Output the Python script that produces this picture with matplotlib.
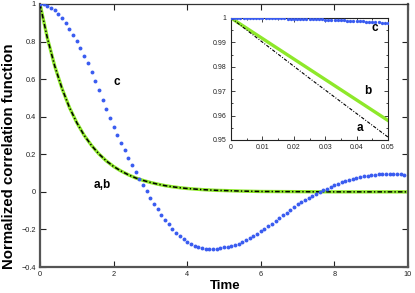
import numpy as np
import matplotlib
matplotlib.use("Agg")
import matplotlib.pyplot as plt
from matplotlib.ticker import MultipleLocator

plt.rcParams["font.family"] = ["Liberation Sans", "DejaVu Sans"]
plt.rcParams["axes.unicode_minus"] = True

# main panel: curve c (dotted), sampled every 0.1
t_c = [round(0.1 * i, 1) for i in range(100)]
c_main = [
    1.000, 0.998, 0.992, 0.981, 0.966, 0.947, 0.924, 0.897, 0.868, 0.836,
    0.801, 0.764, 0.725, 0.684, 0.639, 0.591, 0.541, 0.490, 0.440, 0.393,
    0.347, 0.303, 0.261, 0.221, 0.182, 0.144, 0.107, 0.071, 0.036, 0.002,
    -0.031, -0.063, -0.093, -0.121, -0.148, -0.173, -0.196, -0.217, -0.236, -0.253,
    -0.267, -0.279, -0.289, -0.296, -0.301, -0.304, -0.305, -0.305, -0.303, -0.300,
    -0.296, -0.293, -0.289, -0.283, -0.275, -0.266, -0.256, -0.245, -0.234, -0.222,
    -0.210, -0.197, -0.184, -0.170, -0.155, -0.140, -0.125, -0.110, -0.095, -0.080,
    -0.066, -0.054, -0.042, -0.031, -0.021, -0.011, -0.002, 0.008, 0.017, 0.026,
    0.034, 0.042, 0.050, 0.057, 0.064, 0.070, 0.075, 0.080, 0.084, 0.087,
    0.090, 0.092, 0.094, 0.095, 0.095, 0.095, 0.095, 0.094, 0.093, 0.092,
]

# main panel: curves a and b (overlapping)
t_ab = [0.0, 0.2, 0.4, 0.6, 0.8, 1.0, 1.2, 1.4, 1.6, 1.8,
        2.0, 2.2, 2.4, 2.6, 2.8, 3.0, 3.2, 3.4, 3.6, 3.8,
        4.0, 4.2, 4.4, 4.6, 4.8, 5.0, 5.5, 6.0, 7.0, 8.0, 9.0, 10.0]
a_main = [1.000, 0.819, 0.670, 0.549, 0.449, 0.368, 0.301, 0.247, 0.202, 0.165,
          0.135, 0.111, 0.091, 0.074, 0.061, 0.050, 0.041, 0.033, 0.027, 0.022,
          0.018, 0.015, 0.012, 0.010, 0.008, 0.007, 0.004, 0.002, 0.001, 0.0, 0.0, 0.0]
b_main = a_main

# inset (short times)
t_in_ab = [0.0, 0.025, 0.05]
a_inset = [1.0, 0.9753, 0.9512]
b_inset = [1.0, 0.979, 0.958]
t_in_c = [0.001 * i for i in range(51)]
c_inset = [
    1.00000, 1.00000, 1.00000, 0.99999, 0.99999, 0.99998, 0.99998, 0.99997, 0.99996, 0.99995,
    0.99994, 0.99993, 0.99991, 0.99989, 0.99987, 0.99985, 0.99983, 0.99981, 0.99978, 0.99975,
    0.99973, 0.99970, 0.99966, 0.99963, 0.99959, 0.99956, 0.99952, 0.99948, 0.99943, 0.99939,
    0.99934, 0.99929, 0.99924, 0.99919, 0.99913, 0.99908, 0.99902, 0.99896, 0.99889, 0.99883,
    0.99876, 0.99869, 0.99862, 0.99855, 0.99847, 0.99840, 0.99832, 0.99824, 0.99815, 0.99807,
    0.99798,
]

blue = "#3a5cf0"
green = "#8ee82a"
dashdot = (0, (3.0, 1.4, 0.9, 1.4))

fig = plt.figure(figsize=(4.15, 2.93), dpi=100)
ax = fig.add_axes([40 / 415, 26 / 293, 368 / 415, 263 / 293])

ax.plot(t_ab, b_main, color=green, lw=2.4, zorder=2)
ax.plot(t_ab, a_main, color="black", lw=1.1, ls=dashdot, zorder=3)
ax.plot(t_c, c_main, ls="none", marker="o", ms=2.8, mec="none", color=blue, zorder=4)

ax.set_xlim(0, 10)
ax.set_ylim(-0.4, 1)
ax.set_xticks([0, 2, 4, 6, 8, 10])
ax.set_yticks([-0.4, -0.2, 0, 0.2, 0.4, 0.6, 0.8, 1])
ax.set_yticklabels(["\u22120.4", "\u22120.2", "0", "0.2", "0.4", "0.6", "0.8", "1"])
ax.tick_params(direction="in", length=4, width=0.8, labelsize=5.3,
               top=True, right=True, pad=3, colors="#222222")
for side in ["left", "bottom", "right"]:
    ax.spines[side].set_color("#555555")
    ax.spines[side].set_linewidth(1.6)
ax.spines["top"].set_color("#333333")
ax.spines["top"].set_linewidth(0.9)

ax.set_xlabel("Time", fontsize=9.5, fontweight="bold")
ax.xaxis.set_label_coords(0.503, -0.05)
ax.set_ylabel("Normalized correlation function", fontsize=10.8, fontweight="bold")
ax.yaxis.set_label_coords(-0.065, 0.42)

ax.text(2.09, 0.585, "c", fontsize=8.5, fontweight="bold", ha="center", va="center")
ax.text(1.68, 0.037, "a,b", fontsize=8.5, fontweight="bold", ha="center", va="center")

# inset
ins = fig.add_axes([231 / 415, 153 / 293, 157 / 415, 122 / 293])
ins.plot(t_in_ab, b_inset, color=green, lw=2.4, zorder=2)
ins.plot(t_in_ab, a_inset, color="black", lw=0.8, ls=dashdot, zorder=3)
ins.plot(t_in_c, c_inset, ls="none", marker="o", ms=2.4, mec="none", color=blue, zorder=4)
ins.set_xlim(0, 0.05)
ins.set_ylim(0.95, 1.0)
ins.set_xticks([0, 0.01, 0.02, 0.03, 0.04, 0.05])
ins.set_xticklabels(["0", "0.01", "0.02", "0.03", "0.04", "0.05"])
ins.set_yticks([0.95, 0.96, 0.97, 0.98, 0.99, 1.0])
ins.set_yticklabels(["0.95", "0.96", "0.97", "0.98", "0.99", "1"])
ins.xaxis.set_minor_locator(MultipleLocator(0.005))
ins.yaxis.set_minor_locator(MultipleLocator(0.005))
ins.tick_params(which="both", direction="in", top=True, right=True, width=0.6,
                labelsize=5.0, pad=3, colors="#222222")
ins.tick_params(which="major", length=3)
ins.tick_params(which="minor", length=1.5)
for side in ins.spines:
    ins.spines[side].set_color("#222222")
    ins.spines[side].set_linewidth(0.8)

ins.text(0.0459, 0.9958, "c", fontsize=8.5, fontweight="bold", ha="center", va="center")
ins.text(0.0437, 0.9702, "b", fontsize=8.5, fontweight="bold", ha="center", va="center")
ins.text(0.0411, 0.9548, "a", fontsize=8.5, fontweight="bold", ha="center", va="center")

fig.savefig("out.png", dpi=100)
